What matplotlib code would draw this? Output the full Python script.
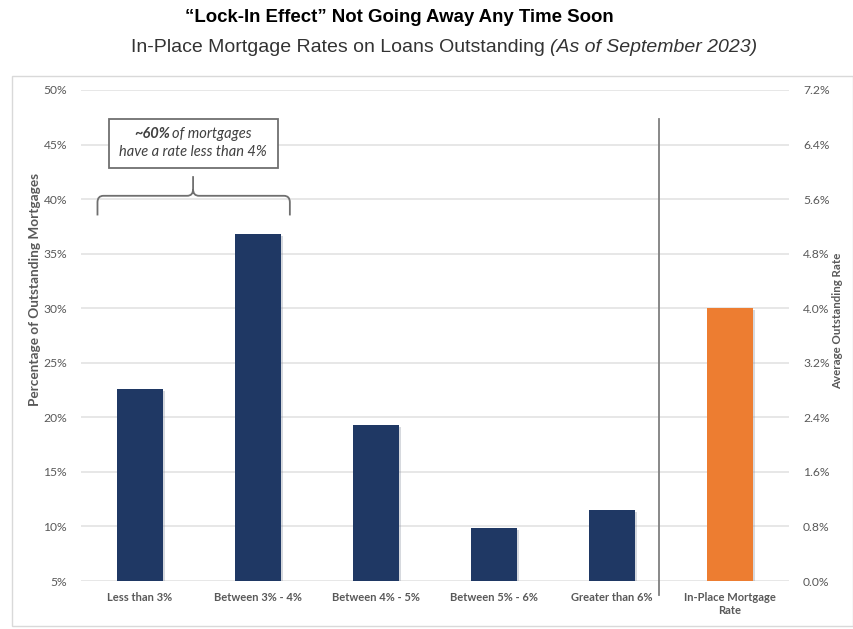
import matplotlib.pyplot as plt
import matplotlib.patheffects as pe
from matplotlib.patches import Rectangle, PathPatch
from matplotlib.path import Path

# share of outstanding mortgages by rate bucket (left axis)
buckets = ['Less than 3%', 'Between 3% - 4%', 'Between 4% - 5%',
           'Between 5% - 6%', 'Greater than 6%']
shares = [22.6, 36.8, 19.3, 9.9, 11.5]

# average in-place rate (right axis)
rate_label = 'In-Place Mortgage\nRate'
avg_rate = [4.0]

left_ticks = [5, 10, 15, 20, 25, 30, 35, 40, 45, 50]
right_ticks = [0.0, 0.8, 1.6, 2.4, 3.2, 4.0, 4.8, 5.6, 6.4, 7.2]

navy = '#1f3864'
orange = '#ed7d31'
gray = '#595959'
font = 'Lato'

fig = plt.figure(figsize=(8.54, 6.29), dpi=100)
ax = fig.add_axes([0.0948, 0.0763, 0.8292, 0.7807])
ax2 = ax.twinx()

shadow = [pe.SimplePatchShadow(offset=(1.5, -1.5), shadow_rgbFace='#8c93a3', alpha=0.35), pe.Normal()]

xs = list(range(len(buckets)))
ax.bar(xs, [s - left_ticks[0] for s in shares], bottom=left_ticks[0], width=0.39,
       color=navy, zorder=3, path_effects=shadow)
ax2.bar([len(buckets)], avg_rate, width=0.39, color=orange, zorder=3, path_effects=shadow)

ax.set_xlim(-0.5, len(buckets) + 0.5)
ax.set_ylim(left_ticks[0], left_ticks[-1])
ax2.set_ylim(right_ticks[0], right_ticks[-1])
ax.set_yticks(left_ticks)
ax.set_yticklabels([f'{t}%' for t in left_ticks])
ax2.set_yticks(right_ticks)
ax2.set_yticklabels([f'{t:.1f}%' for t in right_ticks])
ax.set_xticks(xs + [len(buckets)])
ax.set_xticklabels(buckets + [rate_label], fontweight='bold')

for a in (ax, ax2):
    for s in a.spines.values():
        s.set_visible(False)
    a.tick_params(length=0, colors=gray, labelsize=8)
    for lbl in a.get_yticklabels() + a.get_xticklabels():
        lbl.set_fontfamily(font)
ax.tick_params(axis='y', pad=10, labelsize=8.7)
ax2.tick_params(axis='y', pad=10, labelsize=8.7)
ax.tick_params(axis='x', pad=8)

ax.grid(axis='y', color='#e3e3e3', lw=1.2, zorder=0)
ax.set_axisbelow(True)

fig.text(0.041, 1 - 290 / 629, 'Percentage of Outstanding Mortgages', rotation=90,
         ha='center', va='center', fontsize=9.8, fontweight='bold', color=gray, family=font)
fig.text(0.981, 1 - 321 / 629, 'Average Outstanding Rate', rotation=90,
         ha='center', va='center', fontsize=8.3, fontweight='bold', color=gray, family=font)

# divider between buckets and the average rate bar
ax.plot([4.4, 4.4], [3.7, 47.3], color='#7f7f7f', lw=1.3, clip_on=False, zorder=4)

# brace over the first two buckets
x0, x1, xc = -0.36, 1.27, 0.45
y_lo, y_mid, y_top = 38.5, 40.3, 42.1
r, ry = 0.05, 0.6
verts = [(x0, y_lo), (x0, y_mid - ry), (x0, y_mid), (x0 + r, y_mid),
         (xc - r, y_mid), (xc, y_mid), (xc, y_mid + ry), (xc, y_top),
         (xc, y_mid + ry), (xc, y_mid), (xc + r, y_mid),
         (x1 - r, y_mid), (x1, y_mid), (x1, y_mid - ry), (x1, y_lo)]
codes = [Path.MOVETO, Path.LINETO, Path.CURVE3, Path.CURVE3,
         Path.LINETO, Path.CURVE3, Path.CURVE3, Path.LINETO,
         Path.MOVETO, Path.CURVE3, Path.CURVE3,
         Path.LINETO, Path.CURVE3, Path.CURVE3, Path.LINETO]
ax.add_patch(PathPatch(Path(verts, codes), fill=False, edgecolor='#6f6f6f', lw=1.3, zorder=4))

# callout box
ax.add_patch(Rectangle((-0.263, 42.85), 1.433, 4.5, facecolor='white',
                       edgecolor='#6f6f6f', lw=1.3, zorder=4))
ax.text(0.255, 45.95, '~60%', ha='right', va='center', fontsize=10.5, fontweight='bold',
        style='italic', color='#404040', family=font, zorder=5)
ax.text(0.275, 45.95, 'of mortgages', ha='left', va='center', fontsize=10.5,
        style='italic', color='#404040', family=font, zorder=5)
ax.text(0.45, 44.3, 'have a rate less than 4%', ha='center', va='center', fontsize=10.5,
        style='italic', color='#404040', family=font, zorder=5)

# chart frame
fig.patches.append(Rectangle((12 / 854, 3 / 629), 841 / 854, 550 / 629, transform=fig.transFigure,
                             fill=False, edgecolor='#d9d9d9', lw=1.0))

fig.text(0.468, 1 - 18 / 629, '\u201cLock-In Effect\u201d Not Going Away Any Time Soon',
         ha='center', va='center', fontsize=13.4, fontweight='bold', family='Liberation Sans')
sub1 = 'In-Place Mortgage Rates on Loans Outstanding '
sub2 = '(As of September 2023)'
sub_x = 0.52
t1 = fig.text(sub_x, 1 - 48 / 629, sub1, ha='right', va='center', fontsize=14,
              color='#333333', family='Liberation Sans')
t2 = fig.text(sub_x, 1 - 48 / 629, sub2, ha='left', va='center', fontsize=14,
              style='italic', color='#333333', family='Liberation Sans')

fig.canvas.draw()
# center the two-part subtitle as one line
rend = fig.canvas.get_renderer()
w1 = t1.get_window_extent(rend).width
w2 = t2.get_window_extent(rend).width
shift = (w1 - (w1 + w2) / 2) / fig.bbox.width
t1.set_x(sub_x + shift)
t2.set_x(sub_x + shift)

fig.savefig('out.png', dpi=100)
